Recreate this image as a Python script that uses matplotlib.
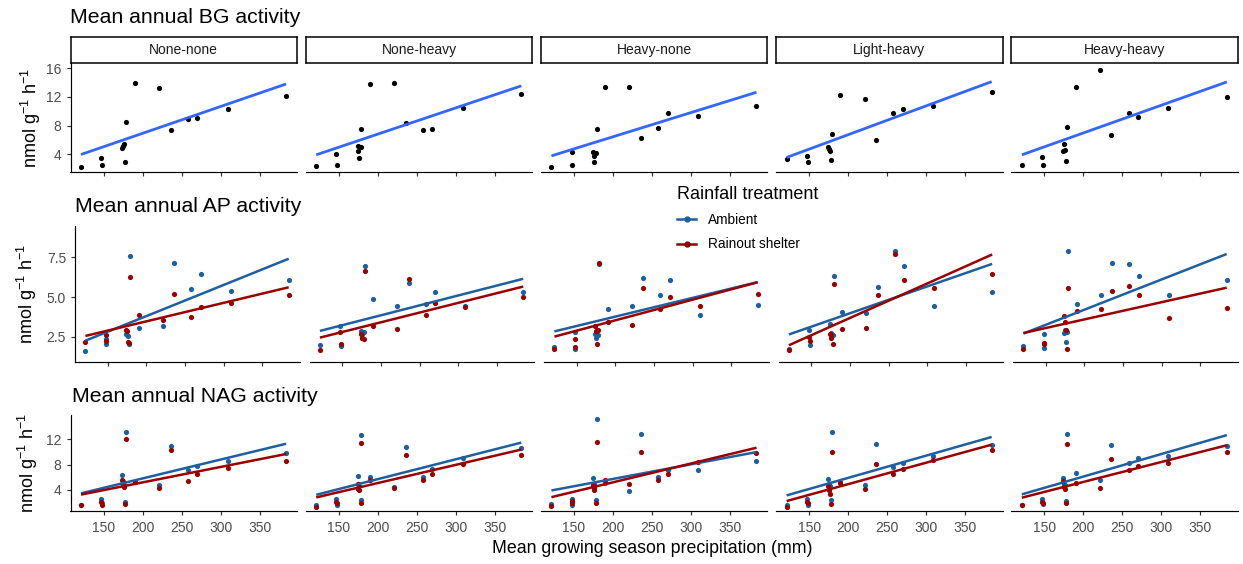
import numpy as np
import matplotlib
matplotlib.use("Agg")
import matplotlib.pyplot as plt
from matplotlib.lines import Line2D

plt.rcParams['font.family'] = ['Liberation Sans', 'DejaVu Sans']
plt.rcParams['mathtext.fontset'] = 'custom'
plt.rcParams['mathtext.rm'] = 'Liberation Sans'
plt.rcParams['mathtext.it'] = 'Liberation Sans:italic'
plt.rcParams['mathtext.bf'] = 'Liberation Sans:bold'

# ---------------- data ----------------
precip = [121, 147, 148, 174, 175, 176, 178, 179, 190, 221, 236, 258, 270, 309, 384]
history = ["None-none", "None-heavy", "Heavy-none", "Light-heavy", "Heavy-heavy"]
treatments = ["Ambient", "Rainout shelter"]
x_ticks = [150, 200, 250, 300, 350]

bg_none_none = [2.2, 3.5, 2.5, 4.85, 5.2, 5.45, 2.9, 8.5, 13.9, 13.2, 7.4, 8.9, 9.05, 10.3, 12.1]
bg_none_heavy = [2.35, 4.0, 2.45, 5.1, 4.5, 3.5, 5.0, 7.45, 13.8, 13.9, 8.4, 7.35, 7.45, 10.5, 12.4]
bg_heavy_none = [2.25, 4.35, 2.5, 4.3, 3.7, 2.85, 4.1, 7.45, 13.35, 13.45, 6.3, 7.65, 9.7, 9.35, 10.8]
bg_light_heavy = [3.3, 3.8, 2.85, 5.0, 4.7, 4.45, 3.2, 6.85, 12.2, 11.7, 6.0, 9.75, 10.3, 10.8, 12.65]
bg_heavy_heavy = [2.45, 3.6, 2.45, 4.5, 5.4, 4.6, 3.0, 7.85, 13.35, 15.7, 6.7, 9.7, 9.25, 10.4, 12.0]

ap_amb_none_none = [1.6, 2.35, 2.05, 2.7, 2.6, 2.55, 2.05, 7.6, 3.05, 3.2, 7.15, 5.5, 6.45, 5.35, 6.1]
ap_rain_none_none = [2.2, 2.6, 2.25, 2.95, 2.85, 2.2, 2.1, 6.25, 3.9, 3.55, 5.2, 3.75, 4.4, 4.65, 5.15]
ap_amb_none_heavy = [1.95, 3.15, 1.9, 2.85, 2.75, 2.7, 2.8, 6.95, 4.85, 4.45, 5.9, 4.55, 5.3, 4.45, 5.3]
ap_rain_none_heavy = [1.65, 2.8, 2.05, 2.7, 2.45, 2.4, 2.35, 6.65, 3.2, 3.0, 6.15, 3.85, 4.6, 4.35, 5.0]
ap_amb_heavy_none = [1.85, 2.8, 1.75, 2.65, 2.45, 2.9, 2.6, 7.05, 4.25, 4.45, 6.2, 5.1, 6.05, 3.9, 4.5]
ap_rain_heavy_none = [1.7, 2.35, 1.85, 3.15, 2.85, 2.05, 2.9, 7.15, 3.45, 3.25, 5.6, 4.25, 5.0, 4.45, 5.2]
ap_amb_light_heavy = [1.75, 2.9, 2.0, 3.3, 2.75, 2.6, 2.6, 6.3, 4.05, 4.0, 5.65, 7.9, 6.95, 4.45, 5.3]
ap_rain_light_heavy = [1.65, 2.5, 2.25, 2.65, 2.45, 2.6, 2.05, 5.8, 3.0, 3.05, 5.1, 7.7, 6.05, 5.55, 6.45]
ap_amb_heavy_heavy = [1.9, 2.65, 1.8, 2.75, 2.9, 2.2, 2.8, 7.9, 4.55, 5.1, 7.15, 7.05, 6.3, 5.1, 6.1]
ap_rain_heavy_heavy = [1.7, 2.1, 2.05, 3.8, 3.4, 2.9, 1.7, 5.55, 4.1, 4.25, 5.4, 5.7, 5.1, 3.65, 4.3]

nag_amb_none_none = [1.6, 2.55, 1.9, 6.3, 5.4, 4.8, 2.1, 13.2, 5.3, 4.75, 10.95, 7.2, 7.75, 8.6, 9.9]
nag_rain_none_none = [1.55, 2.1, 1.6, 5.65, 4.9, 4.5, 1.85, 12.1, 5.2, 4.3, 10.35, 5.4, 6.5, 7.4, 8.6]
nag_amb_none_heavy = [1.6, 2.65, 1.6, 6.2, 4.9, 4.6, 2.4, 12.7, 6.05, 4.4, 10.8, 6.05, 7.35, 9.0, 10.6]
nag_rain_none_heavy = [1.35, 2.1, 1.9, 5.0, 4.2, 4.0, 1.95, 11.4, 5.5, 4.35, 9.6, 5.65, 6.6, 8.15, 9.45]
nag_amb_heavy_none = [1.85, 2.65, 1.6, 5.9, 5.0, 4.7, 2.4, 15.15, 5.1, 3.8, 12.9, 6.05, 7.1, 7.2, 8.6]
nag_rain_heavy_none = [1.45, 2.25, 2.0, 4.75, 4.3, 4.0, 2.0, 11.6, 5.65, 4.9, 9.95, 5.55, 6.45, 8.4, 9.85]
nag_amb_light_heavy = [1.6, 2.6, 1.7, 5.8, 5.0, 4.7, 2.4, 13.15, 5.3, 4.75, 11.3, 7.6, 8.3, 9.3, 11.05]
nag_rain_light_heavy = [1.35, 2.15, 1.9, 4.7, 3.95, 3.4, 1.75, 10.0, 5.15, 4.1, 8.15, 6.6, 7.25, 8.7, 10.35]
nag_amb_heavy_heavy = [1.6, 2.65, 1.75, 5.9, 5.0, 4.8, 2.2, 12.9, 6.7, 5.55, 11.05, 8.25, 9.1, 9.3, 10.95]
nag_rain_heavy_heavy = [1.55, 2.1, 1.9, 5.4, 4.45, 4.2, 1.95, 11.2, 5.15, 4.25, 8.95, 7.2, 7.75, 8.3, 9.95]

bg_panels = [bg_none_none, bg_none_heavy, bg_heavy_none, bg_light_heavy, bg_heavy_heavy]
ap_panels = [(ap_amb_none_none, ap_rain_none_none), (ap_amb_none_heavy, ap_rain_none_heavy),
             (ap_amb_heavy_none, ap_rain_heavy_none), (ap_amb_light_heavy, ap_rain_light_heavy),
             (ap_amb_heavy_heavy, ap_rain_heavy_heavy)]
nag_panels = [(nag_amb_none_none, nag_rain_none_none), (nag_amb_none_heavy, nag_rain_none_heavy),
              (nag_amb_heavy_none, nag_rain_heavy_none), (nag_amb_light_heavy, nag_rain_light_heavy),
              (nag_amb_heavy_heavy, nag_rain_heavy_heavy)]

# ---------------- style ----------------
W, H = 1243, 564
XLIM = (107.5, 398.0)
FIT_BLUE = '#3366FF'
AMB = '#1D5FA0'
RAIN = '#9A0000'
TICK_C = '#333333'
LAB_C = '#4D4D4D'
YLAB = r'nmol g$^{-1}$ h$^{-1}$'

fig = plt.figure(figsize=(W / 100, H / 100), dpi=100)


def px_axes(x0, y0, x1, y1):
    return fig.add_axes([x0 / W, 1 - y1 / H, (x1 - x0) / W, (y1 - y0) / H])


def style(ax, col, ylim, yticks, ylabels, xlabels):
    ax.set_xlim(*XLIM)
    ax.set_ylim(*ylim)
    ax.set_xticks(x_ticks)
    ax.set_yticks(yticks)
    ax.set_yticklabels(ylabels)
    ax.patch.set_alpha(0)
    for s in ['top', 'right']:
        ax.spines[s].set_visible(False)
    for s in ['left', 'bottom']:
        ax.spines[s].set_linewidth(0.85)
        ax.spines[s].set_color('black')
    ax.tick_params(direction='out', length=2.6, width=0.85, color=TICK_C,
                   labelsize=10, labelcolor=LAB_C)
    ax.tick_params(axis='x', pad=4.8)
    ax.tick_params(axis='y', pad=3.8)
    if col > 0:
        ax.spines['left'].set_visible(False)
        ax.tick_params(axis='y', left=False, labelleft=False)
    if not xlabels:
        ax.tick_params(axis='x', labelbottom=False)


def fit_line(ax, x, y, color, lw):
    coef = np.polyfit(x, y, 1)
    xs = np.array([min(x), max(x)])
    ax.plot(xs, np.polyval(coef, xs), color=color, lw=lw, zorder=4,
            solid_capstyle='butt')


# row geometry (pixels)
rows_left = {
    'bg': [70.5 + i * 235.2 for i in range(5)],
    'ap': [75.0 + i * 234.5 for i in range(5)],
    'nag': [70.5 + i * 235.2 for i in range(5)],
}
rows_w = {'bg': 226.5, 'ap': 224.5, 'nag': 226.5}
rows_y = {'bg': (63.3, 171.7), 'ap': (225.7, 361.7), 'nag': (415.0, 511.0)}

# ---- BG row ----
for i, vals in enumerate(bg_panels):
    x0 = rows_left['bg'][i]
    x1 = x0 + rows_w['bg']
    ax = px_axes(x0, rows_y['bg'][0], x1, rows_y['bg'][1])
    ax.scatter(precip, vals, s=14, color='black', linewidths=0, zorder=3)
    fit_line(ax, precip, vals, FIT_BLUE, 2.0)
    style(ax, i, (1.55, 16.7), [4, 8, 12, 16], ['4', '8', '12', '16'], False)
    sax = px_axes(x0, 36.7, x1, 63.3)
    sax.set_xticks([])
    sax.set_yticks([])
    for s in sax.spines.values():
        s.set_linewidth(1.1)
        s.set_color('black')
    sax.text(0.5, 0.5, history[i], ha='center', va='center', fontsize=10,
             color='#1A1A1A', transform=sax.transAxes)

# ---- AP row ----
for i, (amb, rain) in enumerate(ap_panels):
    x0 = rows_left['ap'][i]
    x1 = x0 + rows_w['ap']
    ax = px_axes(x0, rows_y['ap'][0], x1, rows_y['ap'][1])
    ax.scatter(precip, amb, s=14, color=AMB, linewidths=0, zorder=3)
    ax.scatter(precip, rain, s=14, color=RAIN, linewidths=0, zorder=3)
    fit_line(ax, precip, amb, AMB, 1.8)
    fit_line(ax, precip, rain, RAIN, 1.8)
    style(ax, i, (0.93, 9.49), [2.5, 5.0, 7.5], ['2.5', '5.0', '7.5'], False)

# ---- NAG row ----
for i, (amb, rain) in enumerate(nag_panels):
    x0 = rows_left['nag'][i]
    x1 = x0 + rows_w['nag']
    ax = px_axes(x0, rows_y['nag'][0], x1, rows_y['nag'][1])
    ax.scatter(precip, amb, s=14, color=AMB, linewidths=0, zorder=3)
    ax.scatter(precip, rain, s=14, color=RAIN, linewidths=0, zorder=3)
    fit_line(ax, precip, amb, AMB, 1.8)
    fit_line(ax, precip, rain, RAIN, 1.8)
    style(ax, i, (0.68, 15.84), [4, 8, 12], ['4', '8', '12'], True)

# ---- titles & labels ----
fig.text(70 / W, 1 - 23.3 / H, 'Mean annual BG activity', fontsize=15.3, ha='left', va='baseline')
fig.text(75 / W, 1 - 212.3 / H, 'Mean annual AP activity', fontsize=15.3, ha='left', va='baseline')
fig.text(71.5 / W, 1 - 401.7 / H, 'Mean annual NAG activity', fontsize=15.3, ha='left', va='baseline')

for yc, xc in [(117.5, 31), (293.7, 27), (463, 28)]:
    fig.text(xc / W, 1 - yc / H, YLAB, rotation=90, ha='center', va='center', fontsize=13)

fig.text(652.5 / W, 1 - 553 / H, 'Mean growing season precipitation (mm)', fontsize=12.8,
         ha='center', va='baseline')

# ---- legend ----
handles = [Line2D([0], [0], color=AMB, lw=1.8, marker='o', markersize=3.5),
           Line2D([0], [0], color=RAIN, lw=1.8, marker='o', markersize=3.5)]
leg = fig.legend(handles, treatments, title='Rainfall treatment', loc='upper left',
                 bbox_to_anchor=(677 / W, 1 - 186 / H), frameon=False, fontsize=9.8,
                 title_fontsize=13, handlelength=1.4, handletextpad=0.9, labelspacing=0.75,
                 borderpad=0, borderaxespad=0)
leg._legend_box.align = 'left'

fig.savefig('out.png', dpi=100)
